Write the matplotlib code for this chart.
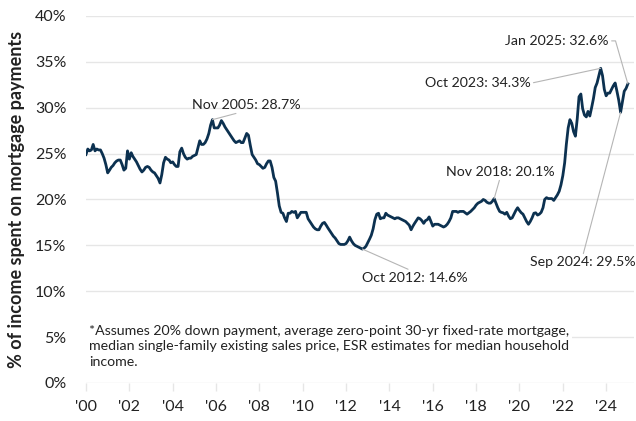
import pandas as pd
import matplotlib
matplotlib.use("Agg")
import matplotlib.pyplot as plt
import matplotlib.dates as mdates

# monthly share of income spent on mortgage payments (%), Jan 2000 - Jan 2025
y2000 = [24.9, 25.5, 25.3, 25.4, 26.0, 25.3, 25.5, 25.4, 25.4, 25.0, 24.5, 23.8]
y2001 = [22.9, 23.2, 23.5, 23.7, 24.0, 24.2, 24.3, 24.3, 23.8, 23.2, 23.4, 25.3]
y2002 = [24.4, 25.1, 24.7, 24.4, 24.1, 23.7, 23.3, 23.0, 23.2, 23.5, 23.6, 23.5]
y2003 = [23.2, 23.0, 22.9, 22.6, 22.3, 21.8, 22.7, 24.0, 24.6, 24.4, 24.3, 24.0]
y2004 = [24.1, 23.8, 23.6, 23.6, 25.2, 25.6, 25.0, 24.6, 24.4, 24.5, 24.5, 24.7]
y2005 = [24.8, 24.9, 25.6, 26.4, 26.0, 26.0, 26.2, 26.6, 27.2, 28.1, 28.7, 27.8]
y2006 = [27.8, 27.8, 28.1, 28.6, 28.3, 27.9, 27.6, 27.3, 27.0, 26.7, 26.4, 26.2]
y2007 = [26.3, 26.4, 26.2, 26.2, 26.7, 27.2, 27.0, 25.9, 24.9, 24.6, 24.3, 23.9]
y2008 = [23.8, 23.6, 23.4, 23.5, 23.9, 24.2, 24.2, 23.5, 22.4, 22.0, 20.7, 19.3]
y2009 = [18.6, 18.5, 18.0, 17.6, 18.5, 18.5, 18.7, 18.6, 18.7, 18.0, 18.3, 18.6]
y2010 = [18.6, 18.6, 18.6, 17.9, 17.6, 17.3, 17.0, 16.8, 16.7, 16.7, 17.1, 17.4]
y2011 = [17.5, 17.2, 16.9, 16.6, 16.3, 16.0, 15.8, 15.5, 15.2, 15.1, 15.1, 15.1]
y2012 = [15.2, 15.5, 15.9, 15.5, 15.2, 15.0, 14.9, 14.8, 14.7, 14.6, 14.7, 14.9]
y2013 = [15.3, 15.7, 16.1, 16.8, 17.8, 18.4, 18.5, 17.9, 18.0, 18.0, 18.5, 18.3]
y2014 = [18.2, 18.1, 18.0, 17.9, 18.0, 18.0, 17.9, 17.8, 17.7, 17.6, 17.4, 17.2]
y2015 = [16.7, 17.1, 17.4, 17.7, 18.0, 17.9, 17.7, 17.4, 17.7, 17.8, 18.1, 17.6]
y2016 = [17.1, 17.3, 17.3, 17.3, 17.2, 17.1, 17.0, 17.1, 17.3, 17.6, 18.0, 18.7]
y2017 = [18.7, 18.7, 18.6, 18.7, 18.7, 18.7, 18.55, 18.4, 18.55, 18.7, 18.9, 19.1]
y2018 = [19.4, 19.6, 19.7, 19.8, 20.0, 19.9, 19.7, 19.6, 19.6, 19.8, 20.1, 19.6]
y2019 = [19.1, 18.7, 18.6, 18.55, 18.4, 18.6, 18.2, 17.9, 18.0, 18.4, 18.8, 19.1]
y2020 = [18.8, 18.55, 18.4, 18.0, 17.6, 17.3, 17.6, 18.0, 18.5, 18.55, 18.3, 18.4]
y2021 = [18.6, 19.1, 20.0, 20.2, 20.1, 20.1, 20.1, 19.9, 20.2, 20.5, 20.9, 21.6]
y2022 = [22.6, 24.0, 26.0, 27.8, 28.7, 28.3, 27.4, 26.9, 28.8, 31.2, 31.5, 29.9]
y2023 = [29.2, 29.0, 29.6, 29.1, 30.0, 31.0, 32.2, 32.7, 33.5, 34.3, 33.5, 32.0]
y2024 = [31.3, 31.6, 31.6, 32.0, 32.4, 32.7, 31.8, 30.8, 29.5, 30.6, 31.8, 32.1]
y2025 = [32.6]

values = (y2000 + y2001 + y2002 + y2003 + y2004 + y2005 + y2006 + y2007 + y2008
          + y2009 + y2010 + y2011 + y2012 + y2013 + y2014 + y2015 + y2016 + y2017
          + y2018 + y2019 + y2020 + y2021 + y2022 + y2023 + y2024 + y2025)
dates = pd.date_range("2000-01-01", periods=len(values), freq="MS")
df = pd.DataFrame({"date": dates, "pct": values})

tick_years = list(range(2000, 2025, 2))
tick_labels = ["'%02d" % (y % 100) for y in tick_years]
y_ticks = [0, 5, 10, 15, 20, 25, 30, 35, 40]

# (date, label, offset px, ha, relpos)
callouts = [
    ("2005-11-01", "Nov 2005: 28.7%", (34, 15), "center", (0.5, 0.0)),
    ("2012-10-01", "Oct 2012: 14.6%", (52, -29), "center", (0.5, 1.0)),
    ("2018-11-01", "Nov 2018: 20.1%", (6, 27), "center", (0.5, 0.0)),
    ("2023-10-01", "Oct 2023: 34.3%", (-70, -15), "right", (1.0, 0.5)),
    ("2024-09-01", "Sep 2024: 29.5%", (-38, -150), "center", (0.5, 1.0)),
    ("2025-01-01", "Jan 2025: 32.6%", (-19, 43), "right", (1.0, 0.5)),
]

note = ("*Assumes 20% down payment, average zero-point 30-yr fixed-rate mortgage,\n"
        "median single-family existing sales price, ESR estimates for median household\n"
        "income.")

plt.rcParams["font.family"] = ["Lato", "DejaVu Sans"]
text_col = "#222222"
grid_col = "#e6e6e6"

fig = plt.figure(figsize=(6.36, 4.21), dpi=100)
ax = fig.add_axes([0.1352, 0.0903, 0.8617, 0.8717])

ax.plot(df["date"], df["pct"], color="#0c3150", lw=2.0, zorder=3, solid_joinstyle="round")

ax.set_ylim(0, 40)
ax.set_xlim(pd.Timestamp("2000-01-01"), pd.Timestamp("2025-04-15"))
ax.set_yticks(y_ticks)
ax.set_yticklabels(["%d%%" % v for v in y_ticks])
ax.set_xticks([pd.Timestamp("%d-01-01" % y) for y in tick_years])
ax.set_xticklabels(tick_labels)
ax.xaxis.set_minor_locator(mdates.YearLocator(1))
ax.xaxis.set_minor_formatter(plt.NullFormatter())

ax.grid(axis="y", color=grid_col, lw=1)
ax.set_axisbelow(True)
for s in ax.spines.values():
    s.set_visible(False)
ax.tick_params(axis="y", length=0, pad=14, labelsize=11.5, labelcolor=text_col)
ax.tick_params(axis="x", which="major", length=6, width=1, color=grid_col, pad=6,
               labelsize=11.5, labelcolor=text_col)
ax.tick_params(axis="x", which="minor", length=0)

ax.set_ylabel("% of income spent on mortgage payments", fontsize=13, fontweight="bold",
              color=text_col, labelpad=7)

for d, label, off, ha, rp in callouts:
    row = df[df["date"] == pd.Timestamp(d)].iloc[0]
    cs = "arc3"
    if label.startswith("Jan 2025"):
        cs = "angle,angleA=0,angleB=106,rad=0"
    ax.annotate(label, xy=(row["date"], row["pct"]), xytext=off, textcoords="offset pixels",
                ha=ha, va="center", fontsize=10.2, color=text_col, zorder=5,
                arrowprops=dict(arrowstyle="-", color="#b5b5b5", lw=0.8, shrinkA=0,
                                shrinkB=0, relpos=rp, connectionstyle=cs))

ax.text(0.006, 0.158, note, transform=ax.transAxes, ha="left", va="top", fontsize=10.2,
        color=text_col, linespacing=1.35, zorder=4,
        bbox=dict(facecolor="white", edgecolor="none", pad=2))

fig.savefig("out.png", dpi=100)
